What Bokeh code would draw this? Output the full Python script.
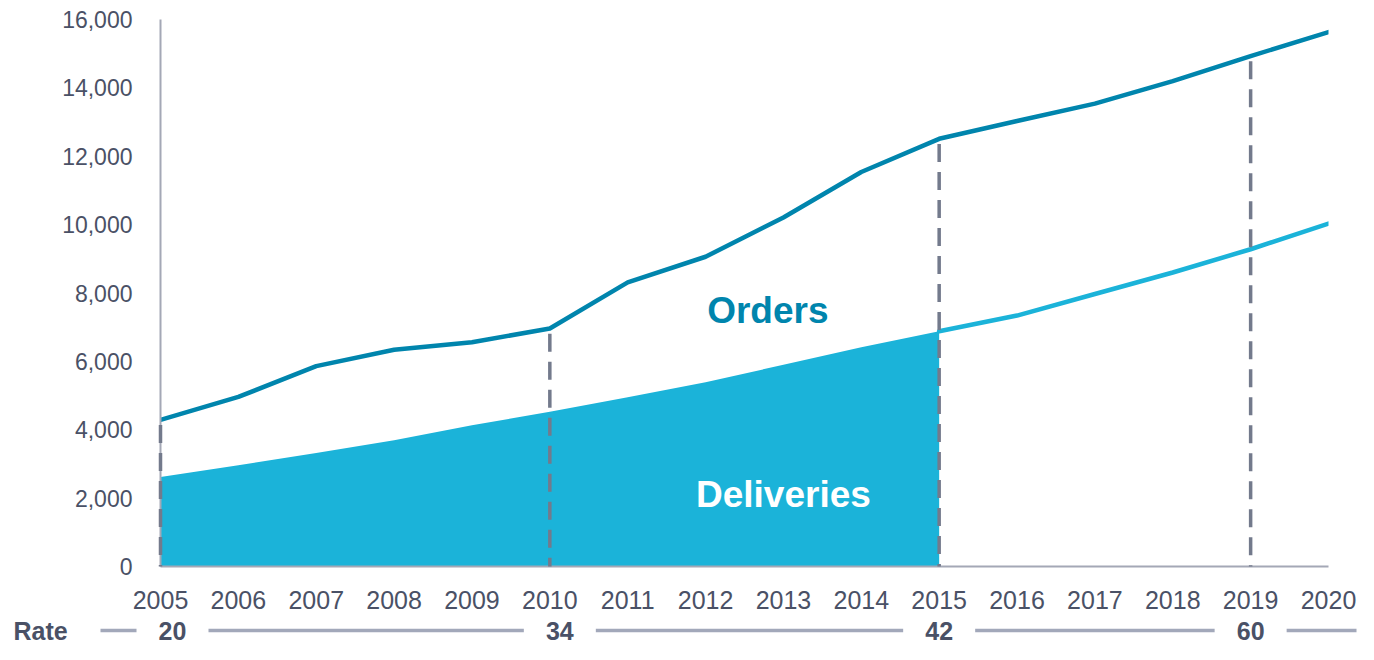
from bokeh.plotting import figure
from bokeh.models import Range1d, FixedTicker, NumeralTickFormatter, ColumnDataSource, Label
from bokeh.embed import file_html
from bokeh.resources import INLINE
from bokeh.core.properties import value

# ---------------- data ----------------
years = list(range(2005, 2021))
orders = [4290, 4960, 5860, 6340, 6560, 6960, 8310, 9060, 10210, 11540,
          12510, 13030, 13540, 14200, 14930, 15630]
deliveries = [2620, 2960, 3320, 3690, 4130, 4530, 4950, 5390, 5900, 6410,
              6880, 7340, 7970, 8600, 9280, 10030]
y_ticks = [0, 2000, 4000, 6000, 8000, 10000, 12000, 14000, 16000]
actual_until = 2015
rate_years = [2005, 2010, 2015, 2019]
rates = ["20", "34", "42", "60"]

# ---------------- style / layout ----------------
W, H = 1358, 644
L, R, T, B = 160, 30, 19, 78
Y0, Y1 = 0, 16000
TEXT_COL = "#4A5166"
AXIS_COL = "#A4A8B6"
ORDERS_COL = "#0085AD"
DELIV_COL = "#1BB3D9"
DASH_COL = "#737A8C"
RATE_LINE_COL = "#A2A8BA"
FONT = "Liberation Sans"

p = figure(width=W, height=H, x_range=Range1d(2005, 2020), y_range=Range1d(Y0, Y1),
           output_backend="svg", toolbar_location=None,
           min_border_left=L, min_border_right=R, min_border_top=T, min_border_bottom=B)
p.outline_line_color = None
p.grid.visible = False
p.background_fill_color = "white"

n_act = years.index(actual_until) + 1
area_src = ColumnDataSource(dict(x=years[:n_act], y=deliveries[:n_act]))
fc_src = ColumnDataSource(dict(x=years[n_act - 1:], y=deliveries[n_act - 1:]))
ord_src = ColumnDataSource(dict(x=years, y=orders))

p.varea(x="x", y1=0, y2="y", source=area_src, fill_color=DELIV_COL)
p.line(x="x", y="y", source=fc_src, line_color=DELIV_COL, line_width=4.5, line_cap="round")

dash_top = [orders[years.index(yr)] - 150 for yr in rate_years]
p.segment(x0=rate_years, y0=dash_top, x1=rate_years, y1=[0] * len(rate_years),
          line_color=DASH_COL, line_width=3.5, line_dash="18 10", level="overlay")

p.line(x="x", y="y", source=ord_src, line_color=ORDERS_COL, line_width=4.5,
       line_join="round", line_cap="round")

p.add_layout(Label(x=2012.8, y=7500, text="Orders", text_font=FONT, text_font_style="bold",
                   text_font_size="37px", text_color=ORDERS_COL,
                   text_align="center", text_baseline="middle"))
p.add_layout(Label(x=2013.0, y=2100, text="Deliveries", text_font=FONT, text_font_style="bold",
                   text_font_size="37px", text_color="white",
                   text_align="center", text_baseline="middle"))

for ax in (p.xaxis, p.yaxis):
    ax.axis_line_color = AXIS_COL
    ax.axis_line_width = 2
    ax.major_tick_line_color = None
    ax.minor_tick_line_color = None
    ax.major_label_text_font = FONT
    ax.major_label_text_color = TEXT_COL

p.xaxis.ticker = FixedTicker(ticks=years)
p.xaxis.major_label_text_font_size = "25px"
p.xaxis.major_label_standoff = 18
p.yaxis.ticker = FixedTicker(ticks=y_ticks)
p.yaxis.formatter = NumeralTickFormatter(format="0,0")
p.yaxis.major_label_text_font_size = "23px"
p.yaxis.major_label_standoff = 22

# ---------------- rate row (below the x axis) ----------------
ppx = (W - L - R) / (2020 - 2005)            # pixels per year
ppv = (H - T - B) / (Y1 - Y0)                # pixels per value
ROW_BELOW_PX = 64
row_y = Y0 - ROW_BELOW_PX / ppv
rate_nudge_px = [12, 10, 0, 0]
rate_x = [yr + n / ppx for yr, n in zip(rate_years, rate_nudge_px)]
GAP = 36
x_lead = 2005 - (L - 100) / ppx
x_end = 2020 + (R - 2) / ppx
x0s = [x_lead] + [c + GAP / ppx for c in rate_x]
x1s = [c - GAP / ppx for c in rate_x] + [x_end]
p.segment(x0=x0s, y0=[row_y] * len(x0s), x1=x1s, y1=[row_y] * len(x1s),
          line_color=RATE_LINE_COL, line_width=3.5, level="overlay")

p.text(x=rate_x, y=[row_y] * len(rate_x), text=rates, text_font=value(FONT),
       text_font_style="bold", text_font_size="25px", text_color=TEXT_COL,
       text_align="center", text_baseline="middle", level="overlay")
p.text(x=[2005 - (L - 13) / ppx], y=[row_y], text=["Rate"], text_font=value(FONT),
       text_font_style="bold", text_font_size="25px", text_color=TEXT_COL,
       text_align="left", text_baseline="middle", level="overlay")

open("out.html", "w").write(file_html(p, INLINE))
